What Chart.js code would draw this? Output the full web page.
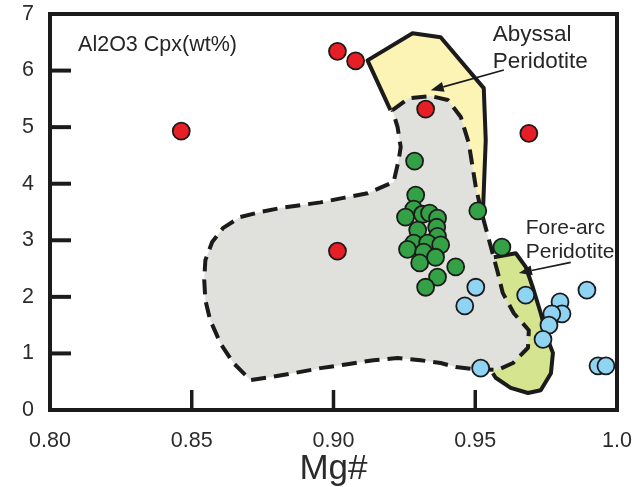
<!DOCTYPE html>
<html>
<head>
<meta charset="utf-8">
<script src="https://cdn.jsdelivr.net/npm/chart.js@4.4.1/dist/chart.umd.min.js"></script>
<style>
  html, body { margin: 0; padding: 0; background: #fff; }
  #wrap { width: 634px; height: 487px; position: relative; }
</style>
</head>
<body>
<div id="wrap"><canvas id="mgChart"></canvas></div>
<script>
// Axis ticks
const xTicks = [0.80, 0.85, 0.90, 0.95, 1.0];
const xTickLabels = ['0.80', '0.85', '0.90', '0.95', '1.0'];
const yTicks = [0, 1, 2, 3, 4, 5, 6, 7];

// Samples [Mg#, Al2O3]
const redPoints = [
    [0.8463, 4.93], [0.9014, 6.34], [0.9078, 6.17], [0.9325, 5.32],
    [0.9689, 4.89], [0.9014, 2.81]
];
const greenPoints = [
    [0.9286, 4.40], [0.9290, 3.80], [0.9283, 3.55], [0.9254, 3.41],
    [0.9314, 3.46], [0.9339, 3.48], [0.9367, 3.39], [0.9297, 3.18],
    [0.9364, 3.23], [0.9367, 3.07], [0.9283, 2.95], [0.9261, 2.84],
    [0.9332, 2.95], [0.9378, 2.92], [0.9318, 2.79], [0.9304, 2.60],
    [0.9360, 2.70], [0.9431, 2.53], [0.9367, 2.35], [0.9325, 2.17],
    [0.9509, 3.52], [0.9594, 2.88]
];
const bluePoints = [
    [0.9502, 2.17], [0.9463, 1.84], [0.9678, 2.03], [0.9894, 2.12],
    [0.9799, 1.91], [0.9806, 1.70], [0.9770, 1.70], [0.9760, 1.50],
    [0.9739, 1.25], [0.9519, 0.74], [0.9933, 0.78], [0.9961, 0.78]
];

// Field outlines (closed)
const grayField = [
    [0.9208, 5.30], [0.9265, 5.51], [0.9343, 5.55], [0.9403, 5.48],
    [0.9449, 5.18], [0.9477, 4.72], [0.9502, 3.94], [0.9523, 3.48],
    [0.9544, 3.09], [0.9565, 2.70], [0.9580, 2.42], [0.9597, 2.07],
    [0.9636, 1.71], [0.9689, 1.41], [0.9686, 1.10], [0.9633, 0.83],
    [0.9580, 0.71], [0.9502, 0.72], [0.9431, 0.76], [0.9378, 0.83],
    [0.9307, 0.88], [0.9226, 0.92], [0.9141, 0.88], [0.9049, 0.81],
    [0.8954, 0.74], [0.8859, 0.65], [0.8777, 0.58], [0.8707, 0.53],
    [0.8647, 0.83], [0.8601, 1.18], [0.8565, 1.59], [0.8548, 1.94],
    [0.8544, 2.30], [0.8548, 2.65], [0.8572, 2.97], [0.8611, 3.22],
    [0.8671, 3.41], [0.8742, 3.50], [0.8813, 3.57], [0.8883, 3.62],
    [0.8954, 3.67], [0.9035, 3.75], [0.9120, 3.83], [0.9212, 4.03],
    [0.9230, 4.42], [0.9237, 4.65], [0.9226, 5.00], [0.9208, 5.30]
];
const abyssalField = [
    [0.9201, 5.30], [0.9120, 6.18], [0.9279, 6.66], [0.9378, 6.59],
    [0.9530, 5.69], [0.9537, 4.77], [0.9527, 3.48], [0.9502, 3.94],
    [0.9477, 4.72], [0.9449, 5.18], [0.9403, 5.48], [0.9343, 5.55],
    [0.9265, 5.51], [0.9201, 5.30]
];
const forearcField = [
    [0.9565, 2.70], [0.9643, 2.77], [0.9678, 2.53], [0.9703, 2.17],
    [0.9731, 1.71], [0.9756, 1.24], [0.9774, 1.01], [0.9767, 0.65],
    [0.9731, 0.35], [0.9686, 0.30], [0.9625, 0.39], [0.9572, 0.57],
    [0.9562, 0.65], [0.9633, 0.83], [0.9686, 1.10], [0.9689, 1.41],
    [0.9636, 1.71], [0.9597, 2.07], [0.9580, 2.42], [0.9565, 2.70]
];
const abyssalSolidEnd = 6;   // segments before this index get a solid border
const forearcSolidEnd = 12;

// Labels and arrows in data units
const labels = [
    { text: 'Al2O3 Cpx(wt%)', x: 0.8099, y: 6.45, size: 21.5 },
    { text: 'Abyssal', x: 0.9562, y: 6.63, size: 22.5 },
    { text: 'Peridotite', x: 0.9562, y: 6.15, size: 22.5 },
    { text: 'Fore-arc', x: 0.9678, y: 3.22, size: 21 },
    { text: 'Peridotite', x: 0.9678, y: 2.79, size: 21 }
];
const arrows = [
    { from: [0.9601, 6.01], to: [0.9343, 5.65] },
    { from: [0.9837, 2.61], to: [0.9654, 2.42] }
];

const INK = '#1b1b1b';
const FONT = "'Liberation Sans', Arial, sans-serif";
const toXY = arr => arr.map(p => ({ x: p[0], y: p[1] }));

const frameAndMarks = {
    id: 'frameAndMarks',
    afterDatasetsDraw(chart) {
        const { ctx, chartArea: a, scales: { x, y } } = chart;
        ctx.save();
        ctx.strokeStyle = INK;
        ctx.lineCap = 'butt';
        // inner tick marks
        ctx.lineWidth = 4;
        yTicks.slice(1, -1).forEach(v => {
            const py = y.getPixelForValue(v);
            ctx.beginPath(); ctx.moveTo(a.left, py); ctx.lineTo(a.left + 21, py); ctx.stroke();
        });
        ctx.lineWidth = 3.5;
        xTicks.slice(1, -1).forEach(v => {
            const px = x.getPixelForValue(v);
            ctx.beginPath(); ctx.moveTo(px, a.bottom); ctx.lineTo(px, a.bottom - 20); ctx.stroke();
        });
        // frame
        ctx.lineWidth = 4;
        ctx.strokeRect(a.left, a.top, a.right - a.left, a.bottom - a.top);

        // arrows
        ctx.lineWidth = 1.6;
        ctx.fillStyle = INK;
        arrows.forEach(ar => {
            const x0 = x.getPixelForValue(ar.from[0]), y0 = y.getPixelForValue(ar.from[1]);
            const x1 = x.getPixelForValue(ar.to[0]), y1 = y.getPixelForValue(ar.to[1]);
            const ang = Math.atan2(y1 - y0, x1 - x0);
            const hl = 13, hw = 5;
            const bx = x1 - hl * Math.cos(ang), by = y1 - hl * Math.sin(ang);
            ctx.beginPath(); ctx.moveTo(x0, y0); ctx.lineTo(bx, by); ctx.stroke();
            ctx.beginPath();
            ctx.moveTo(x1, y1);
            ctx.lineTo(bx + hw * Math.sin(ang), by - hw * Math.cos(ang));
            ctx.lineTo(bx - hw * Math.sin(ang), by + hw * Math.cos(ang));
            ctx.closePath(); ctx.fill();
        });

        // text labels
        ctx.fillStyle = '#262626';
        ctx.textAlign = 'left';
        ctx.textBaseline = 'middle';
        labels.forEach(l => {
            ctx.font = l.size + 'px ' + FONT;
            ctx.fillText(l.text, x.getPixelForValue(l.x), y.getPixelForValue(l.y));
        });
        ctx.restore();
    }
};

// keep the plot box fixed: no extra room for overhanging tick labels
const fixBox = (s, size) => {
    if (s.isHorizontal()) s.height = size; else s.width = size;
    s.paddingLeft = 0; s.paddingRight = 0; s.paddingTop = 0; s.paddingBottom = 0;
};

const fieldStyle = {
    type: 'line',
    showLine: true,
    fill: 'shape',
    pointRadius: 0,
    pointHoverRadius: 0,
    tension: 0,
    borderJoinStyle: 'round'
};
const pointStyle = {
    pointRadius: 8.5,
    pointHoverRadius: 8.5,
    borderColor: INK,
    borderWidth: 1.8
};

new Chart(document.getElementById('mgChart'), {
    type: 'scatter',
    data: {
        datasets: [
            {
                ...fieldStyle,
                label: 'Abyssal Peridotite',
                data: toXY(abyssalField),
                backgroundColor: '#fbf4b4',
                borderColor: INK,
                borderWidth: 4,
                segment: {
                    borderColor: c => c.p0DataIndex < abyssalSolidEnd ? INK : 'rgba(0,0,0,0)'
                },
                order: 5
            },
            {
                ...fieldStyle,
                label: 'Fore-arc Peridotite',
                data: toXY(forearcField),
                backgroundColor: '#d5e48e',
                borderColor: INK,
                borderWidth: 4,
                segment: {
                    borderColor: c => c.p0DataIndex < forearcSolidEnd ? INK : 'rgba(0,0,0,0)'
                },
                order: 4
            },
            {
                ...fieldStyle,
                label: 'Field',
                data: toXY(grayField),
                backgroundColor: '#e0e0dc',
                borderColor: INK,
                borderWidth: 4,
                borderDash: [15, 8],
                order: 3
            },
            { ...pointStyle, label: 'Red', data: toXY(redPoints), backgroundColor: '#e61e25', order: 2 },
            { ...pointStyle, label: 'Green', data: toXY(greenPoints), backgroundColor: '#34a147', order: 1 },
            { ...pointStyle, label: 'Blue', data: toXY(bluePoints), backgroundColor: '#8fd4f2', order: 0 }
        ]
    },
    options: {
        responsive: true,
        maintainAspectRatio: false,
        animation: false,
        layout: { padding: { top: 14, right: 17, left: 0, bottom: 0 } },
        plugins: {
            legend: { display: false },
            tooltip: { enabled: false }
        },
        scales: {
            x: {
                type: 'linear',
                min: 0.8,
                max: 1.0,
                afterFit: s => fixBox(s, 77),
                afterBuildTicks: s => { s.ticks = xTicks.map(v => ({ value: v })); },
                grid: { display: false, drawTicks: false },
                border: { display: false },
                ticks: {
                    padding: 18,
                    color: '#2b2b2b',
                    maxRotation: 0,
                    font: { family: FONT, size: 21.5 },
                    callback: v => xTickLabels[xTicks.findIndex(t => Math.abs(t - v) < 1e-9)]
                },
                title: {
                    display: true,
                    text: 'Mg#',
                    color: '#2b2b2b',
                    font: { family: FONT, size: 35, lineHeight: 1.03 },
                    padding: { top: 0, bottom: 0 }
                }
            },
            y: {
                type: 'linear',
                min: 0,
                max: 7,
                afterFit: s => fixBox(s, 50),
                afterBuildTicks: s => { s.ticks = yTicks.map(v => ({ value: v })); },
                grid: { display: false, drawTicks: false },
                border: { display: false },
                ticks: {
                    padding: 16,
                    color: '#2b2b2b',
                    font: { family: FONT, size: 21.5 }
                }
            }
        }
    },
    plugins: [frameAndMarks]
});
</script>
</body>
</html>
